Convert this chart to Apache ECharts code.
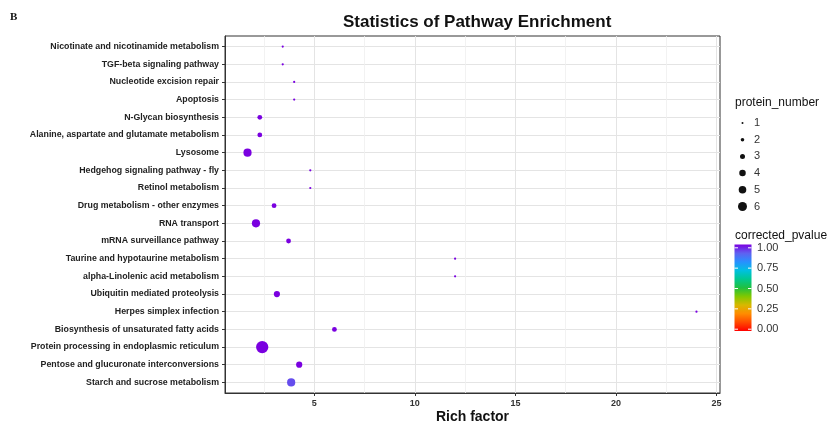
<!DOCTYPE html>
<html>
<head>
<meta charset="utf-8">
<script src="https://cdn.jsdelivr.net/npm/echarts@6/dist/echarts.min.js"></script>
<style>
  html, body { margin: 0; padding: 0; background: #fff; }
  #chart { width: 833px; height: 422px; }
</style>
</head>
<body>
<div id="chart"></div>
<script>
const categories = [
  'Nicotinate and nicotinamide metabolism',
  'TGF-beta signaling pathway',
  'Nucleotide excision repair',
  'Apoptosis',
  'N-Glycan biosynthesis',
  'Alanine, aspartate and glutamate metabolism',
  'Lysosome',
  'Hedgehog signaling pathway - fly',
  'Retinol metabolism',
  'Drug metabolism - other enzymes',
  'RNA transport',
  'mRNA surveillance pathway',
  'Taurine and hypotaurine metabolism',
  'alpha-Linolenic acid metabolism',
  'Ubiquitin mediated proteolysis',
  'Herpes simplex infection',
  'Biosynthesis of unsaturated fatty acids',
  'Protein processing in endoplasmic reticulum',
  'Pentose and glucuronate interconversions',
  'Starch and sucrose metabolism'
];
const richFactor = [3.43, 3.43, 4.0, 4.0, 2.29, 2.29, 1.68, 4.8, 4.8, 3.0, 2.1, 3.72, 12.0, 12.0, 3.14, 24.0, 6.0, 2.41, 4.25, 3.85];
const proteinNumber = [1, 1, 1, 1, 2, 2, 4, 1, 1, 2, 4, 2, 1, 1, 3, 1, 2, 6, 3, 4];
const correctedPvalue = [1, 1, 1, 1, 1, 1, 1, 1, 1, 1, 1, 1, 1, 1, 1, 1, 1, 1, 1, 0.92];
const xTickLabels = [5, 10, 15, 20, 25];
const minorGrid = [2.5, 7.5, 12.5, 17.5, 22.5];
const sizeLegendValues = [1, 2, 3, 4, 5, 6];
const pvalueTicks = [1.00, 0.75, 0.50, 0.25, 0.00];

// style constants
const FONT = 'Liberation Sans, Arial, sans-serif';
const sizeByCount = {1: 2.2, 2: 4.8, 3: 6.2, 4: 8.2, 5: 10, 6: 12.3};
const legendSizeByCount = {1: 2, 2: 3.6, 3: 5, 4: 6.5, 5: 7.6, 6: 9};
const colorStops = ['#FF0000', '#FF4A00', '#FF8C00', '#D8B800', '#80C800', '#20C040',
                    '#00C890', '#00C0E0', '#2890FF', '#6060F0', '#7A00E0'];

const chart = echarts.init(document.getElementById('chart'), null, {renderer: 'canvas'});

const points = categories.map((c, i) => [richFactor[i], i, proteinNumber[i], correctedPvalue[i]]);
const yIdx = categories.map((c, i) => i);

// legend graphics (layout only)
const graphics = [];
graphics.push({type: 'text', left: 10, top: 12, style: {text: 'B', font: 'bold 11px "Liberation Serif", serif', fill: '#111'}});
graphics.push({type: 'text', left: 735, top: 97, style: {text: 'protein_number', font: '12px ' + FONT, fill: '#111'}});
const legendY0 = 123, legendStep = 16.7;
sizeLegendValues.forEach((v, k) => {
  const cy = legendY0 + k * legendStep;
  graphics.push({type: 'circle', shape: {cx: 742.5, cy: cy, r: legendSizeByCount[v] / 2}, style: {fill: '#111'}});
  graphics.push({type: 'text', x: 754, y: cy, style: {text: String(v), font: '11px ' + FONT, fill: '#333', textVerticalAlign: 'middle'}});
});
graphics.push({type: 'text', left: 735, top: 230, style: {text: 'corrected_pvalue', font: '12px ' + FONT, fill: '#111'}});
const barTop = 244.5, barBottom = 331, barX = 734.5, barW = 17;
const vTop = 247.8, vBottom = 329.2;
graphics.push({
  type: 'rect', shape: {x: barX, y: barTop, width: barW, height: barBottom - barTop},
  style: {fill: new echarts.graphic.LinearGradient(0, 0, 0, 1,
    colorStops.slice().reverse().map((c, k) => ({offset: k / (colorStops.length - 1), color: c})))}
});
pvalueTicks.forEach(t => {
  const y = vBottom - t * (vBottom - vTop);
  graphics.push({type: 'line', shape: {x1: barX, y1: y, x2: barX + 3.5, y2: y}, style: {stroke: '#fff', lineWidth: 1}});
  graphics.push({type: 'line', shape: {x1: barX + barW - 3.5, y1: y, x2: barX + barW, y2: y}, style: {stroke: '#fff', lineWidth: 1}});
  graphics.push({type: 'text', x: 757, y: y, style: {text: t.toFixed(2), font: '11px ' + FONT, fill: '#333', textVerticalAlign: 'middle'}});
});

const option = {
  animation: false,
  backgroundColor: '#fff',
  title: {
    text: 'Statistics of Pathway Enrichment',
    left: 343, top: 14, padding: 0,
    textStyle: {fontFamily: FONT, fontSize: 17, fontWeight: 'bold', color: '#111'}
  },
  grid: {left: 225, right: 113, top: 36, bottom: 29, show: true, borderColor: '#333', borderWidth: 1,
         backgroundColor: 'transparent', containLabel: false, outerBoundsMode: 'none'},
  xAxis: {
    type: 'value', min: 0.56, max: 25.17,
    name: 'Rich factor', nameLocation: 'middle', nameGap: 17, nameMoveOverlap: false,
    nameTextStyle: {fontFamily: FONT, fontSize: 14, fontWeight: 'bold', color: '#111'},
    axisLine: {show: true, onZero: false, lineStyle: {color: '#333', width: 1}},
    axisTick: {show: true, length: 3, lineStyle: {color: '#333'}, customValues: xTickLabels},
    axisLabel: {margin: 6, fontFamily: FONT, fontSize: 9, fontWeight: 'bold', color: '#333', customValues: xTickLabels},
    splitLine: {show: true, lineStyle: {color: '#E4E4E4', width: 1}}
  },
  yAxis: {
    type: 'value', min: -0.6, max: 19.6, inverse: true,
    axisLine: {show: true, onZero: false, lineStyle: {color: '#333', width: 1}},
    axisTick: {show: true, length: 3, lineStyle: {color: '#333'}, customValues: yIdx},
    axisLabel: {margin: 6, fontFamily: FONT, fontSize: 8.8, fontWeight: 'bold', color: '#222',
                customValues: yIdx, formatter: v => categories[Math.round(v)] || ''},
    splitLine: {show: true, lineStyle: {color: '#E4E4E4', width: 1}}
  },
  visualMap: {
    show: false, type: 'continuous', min: 0, max: 1, dimension: 3, seriesIndex: 1,
    inRange: {color: colorStops}
  },
  series: [
    {
      type: 'line', data: [], silent: true, z: 1, zlevel: 0,
      markLine: {
        silent: true, symbol: 'none', label: {show: false}, z: 1,
        lineStyle: {color: '#EFEFEF', width: 0.8, type: 'solid'},
        data: minorGrid.map(v => ({xAxis: v}))
      }
    },
    {
      type: 'scatter', z: 5,
      data: points,
      symbol: 'circle',
      symbolSize: d => sizeByCount[d[2]],
      itemStyle: {opacity: 1}
    }
  ],
  graphic: graphics
};
chart.setOption(option);
</script>
</body>
</html>
